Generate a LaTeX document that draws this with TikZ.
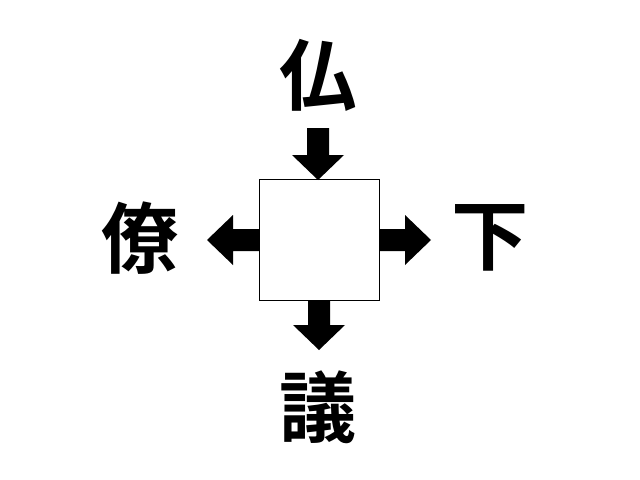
\documentclass[tikz,border=0pt]{standalone}
\usepackage{fontspec}
\newfontfamily\cjk{Noto Sans CJK JP Bold}
\begin{document}
\begin{tikzpicture}[x=0.02cm,y=-0.02cm,
  kanji/.style={font=\cjk\fontsize{44}{44}\selectfont,inner sep=0pt},
  arr/.style={fill=black}]
\useasboundingbox (0,0) rectangle (640,480);
\node[draw,minimum width=2.4cm,minimum height=2.42cm,line width=0.5pt] (box) at (319,239.5) {};
\node[kanji] (t) at (318,75) {仏};
\node[kanji] (l) at (140,238) {僚};
\node[kanji] (r) at (490,238) {下};
\node[kanji] (b) at (318,407) {議};
% top arrow
\fill[arr] (307,128) -- (329,128) -- (329,155) -- (344,155) -- (318,180) -- (292,155) -- (307,155) -- cycle;
% bottom arrow
\fill[arr] (308,300) -- (330,300) -- (330,325) -- (345,325) -- (319,350) -- (293,325) -- (308,325) -- cycle;
% left arrow
\fill[arr] (259,229) -- (259,251) -- (233,251) -- (233,265) -- (207,240) -- (233,215) -- (233,229) -- cycle;
% right arrow
\fill[arr] (379,229) -- (379,251) -- (405,251) -- (405,265) -- (431,240) -- (405,215) -- (405,229) -- cycle;
\end{tikzpicture}
\end{document}
